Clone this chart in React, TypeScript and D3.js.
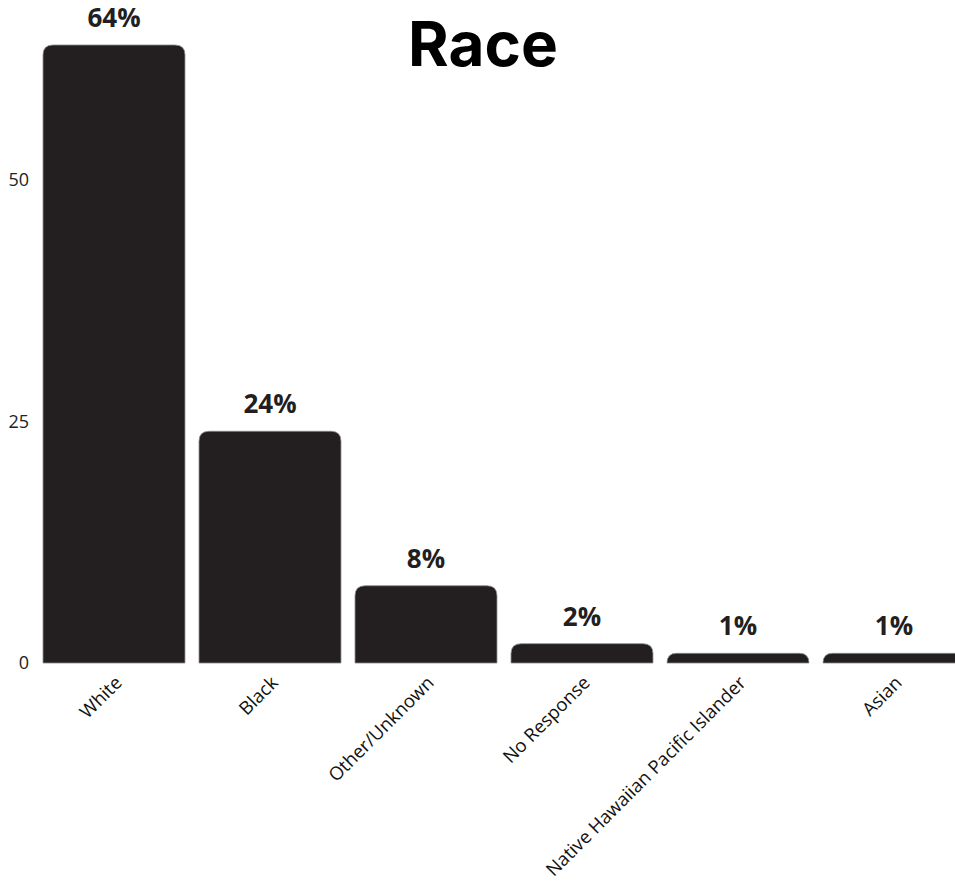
import React from 'react';
import * as d3 from 'd3';

const categories = ['White', 'Black', 'Other/Unknown', 'No Response', 'Native Hawaiian Pacific Islander', 'Asian'];
const values = [64, 24, 8, 2, 1, 1];
const yTicks = [0, 25, 50];
const title = 'Race';

const W = 955;
const H = 882;
const BAR_FILL = '#231f20';

// rounded top corners, square bottom
const topRoundedBar = (x: number, y: number, w: number, h: number, r: number) => {
  const rr = Math.min(r, h, w / 2);
  return `M${x},${y + h}V${y + rr}Q${x},${y} ${x + rr},${y}H${x + w - rr}Q${x + w},${y} ${x + w},${y + rr}V${y + h}Z`;
};

export default function App() {
  const x = d3
    .scaleBand<string>()
    .domain(categories)
    .range([36, 972])
    .paddingInner(0.09)
    .paddingOuter(0.045);

  const y = d3.scaleLinear().domain([0, 64]).range([663, 45]);

  return (
    <svg
      width={W}
      height={H}
      style={{ position: 'absolute', top: 0, left: 0, background: '#fff' }}
    >
      <text
        x={483}
        y={66}
        textAnchor="middle"
        fontFamily="Inter, sans-serif"
        fontWeight={700}
        fontSize={62}
        fill="#000"
      >
        {title}
      </text>

      {/* y tick labels */}
      {yTicks.map((t) => (
        <text
          key={t}
          x={29}
          y={y(t)}
          dy="0.35em"
          textAnchor="end"
          fontFamily="'Open Sans', sans-serif"
          fontSize={18}
          fill="#222"
        >
          {t}
        </text>
      ))}

      {/* bars */}
      {categories.map((c, i) => {
        const bx = x(c) as number;
        const by = y(values[i]);
        return (
          <path
            key={c}
            d={topRoundedBar(bx, by, x.bandwidth(), y(0) - by, 10)}
            fill={BAR_FILL}
            stroke="#888"
            strokeWidth={0.8}
          />
        );
      })}

      {/* value labels */}
      {categories.map((c, i) => (
        <text
          key={c}
          x={(x(c) as number) + x.bandwidth() / 2}
          y={y(values[i]) - 18}
          textAnchor="middle"
          fontFamily="'Open Sans', sans-serif"
          fontWeight={700}
          fontSize={26}
          fill={BAR_FILL}
        >
          {values[i]}%
        </text>
      ))}

      {/* category labels */}
      {categories.map((c) => {
        const cx = (x(c) as number) + x.bandwidth() / 2 + 9;
        return (
          <text
            key={c}
            transform={`translate(${cx},${y(0) + 21}) rotate(-45)`}
            textAnchor="end"
            fontFamily="'Open Sans', sans-serif"
            fontSize={18.5}
            fill="#111"
          >
            {c}
          </text>
        );
      })}
    </svg>
  );
}
